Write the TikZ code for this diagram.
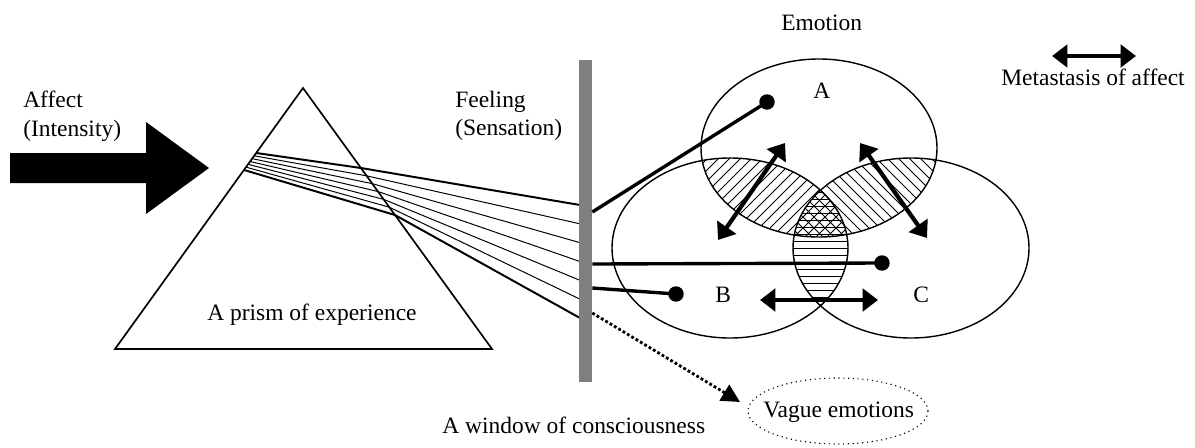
\documentclass[tikz,border=0pt]{standalone}
\usepackage{fontspec}
\setmainfont{Liberation Serif}
\usetikzlibrary{arrows.meta,calc}
\definecolor{WindowGray}{HTML}{7F7F7F}

\begin{document}
\begin{tikzpicture}[x=0.025cm, y=-0.025cm,
        lbl/.style={anchor=base west, inner sep=0pt, font=\fontsize{16.7}{20}\selectfont},
        hatch/.style={line width=0.6pt},
        contour/.style={line width=1pt},
        dot/.style={circle, fill, inner sep=0pt, minimum size=11pt},
        link/.style={line width=2.4pt},
        shift arrow/.style={line width=3pt, {Triangle[length=11pt,width=16pt]}-{Triangle[length=11pt,width=16pt]}}]
        \useasboundingbox (0,0) rectangle (1195,447);
        % affect coming in
        \fill (10,153) -- (146,153) -- (146,122) -- (209,168) -- (146,214) -- (146,183) -- (10,183) -- cycle;
        \node[lbl] (affect) at (23,107) {Affect};
        \node[lbl] (intensity) at (23,136) {(Intensity)};
        % prism and rays
        \coordinate (apex) at (303,88);
        \coordinate (bl) at (115,349);
        \coordinate (br) at (492,349);
        \draw[line width=1.2pt] (bl) -- (apex) -- (br) -- cycle;
        \node[lbl] (prism) at (207,320) {A prism of experience};
        \foreach \i in {0,...,6} {
            \pgfmathsetmacro\s{0.249+\i*0.065/6}
            \pgfmathsetmacro\t{0.3065+\i*0.1801/6}
            \pgfmathsetmacro\yy{205+\i*113/6}
            \pgfmathsetmacro\lw{(\i==0||\i==6)?1.4:0.7}
            \draw[line width=\lw pt] ($(apex)!\s!(bl)$) -- ($(apex)!\t!(br)$) -- (580,\yy);
        }
        % window
        \node[fill=WindowGray, inner sep=0pt, minimum width=9.3pt, minimum height=229pt] (window) at (585.5,221) {};
        \node[lbl] (feeling) at (455,107) {Feeling};
        \node[lbl] (sensation) at (455,135) {(Sensation)};
        \node[lbl] (windowtxt) at (442,433) {A window of consciousness};
        % emotions A, B, C
        \coordinate (A) at (819,148);
        \coordinate (B) at (730,248);
        \coordinate (C) at (911,248);
        \begin{scope}
            \clip (A) ellipse [x radius=118, y radius=89];
            \clip (B) ellipse [x radius=118, y radius=90];
            \foreach \k in {0,...,40} \draw[hatch] (480+\k*11,320) -- ++(240,-240);
        \end{scope}
        \begin{scope}
            \clip (A) ellipse [x radius=118, y radius=89];
            \clip (C) ellipse [x radius=118, y radius=90];
            \foreach \k in {0,...,36} \draw[hatch] (600+\k*11,80) -- ++(240,240);
        \end{scope}
        \begin{scope}
            \clip (B) ellipse [x radius=118, y radius=90];
            \clip (C) ellipse [x radius=118, y radius=90];
            \foreach \k in {0,...,22} \draw[hatch] (770,185+\k*7) -- (870,185+\k*7);
        \end{scope}
        \draw[contour] (A) ellipse [x radius=118, y radius=89];
        \draw[contour] (B) ellipse [x radius=118, y radius=90];
        \draw[contour] (C) ellipse [x radius=118, y radius=90];
        \node[lbl] (labA) at (813,98) {A};
        \node[lbl] (labB) at (715,302) {B};
        \node[lbl] (labC) at (913,302) {C};
        \node[lbl] (emotion) at (781,30) {Emotion};
        % links from the window
        \coordinate (wA) at ($(window.east)+(0,-9)$);
        \coordinate (wC) at ($(window.east)+(0,43)$);
        \coordinate (wB) at ($(window.east)+(0,67)$);
        \coordinate (wV) at ($(window.east)+(0,92)$);
        \node[dot] (dotA) at (767,102) {};
        \node[dot] (dotB) at (676,294) {};
        \node[dot] (dotC) at (882,263) {};
        \draw[link] (wA) -- (dotA.center);
        \draw[link] (wC) -- (dotC.center);
        \draw[link] (wB) -- (dotB.center);
        % metastasis
        \coordinate (ab1) at (718,240);
        \coordinate (ab2) at (785,143);
        \coordinate (ac1) at (860,143);
        \coordinate (ac2) at (927,238);
        \coordinate (bc1) at (760,300);
        \coordinate (bc2) at (878,300);
        \draw[shift arrow] (ab1) -- (ab2);
        \draw[shift arrow] (ac1) -- (ac2);
        \draw[shift arrow] (bc1) -- (bc2);
        \coordinate (leg1) at (1052,56);
        \coordinate (leg2) at (1136,56);
        \draw[shift arrow] (leg1) -- (leg2);
        \node[lbl] (meta) at (1001,85) {Metastasis of affect};
        % vague emotions
        \coordinate (V) at (838,411);
        \draw[line width=0.8pt, dash pattern=on 0.8pt off 2.6pt] (V) ellipse [x radius=90, y radius=33];
        \node[lbl] (vaguetxt) at (763,417) {Vague emotions};
        \coordinate (vtip) at (740,402);
        \draw[line width=2pt, dash pattern=on 2pt off 1.6pt, -{Triangle[length=13pt,width=13pt]}] (wV) -- (vtip);
    \end{tikzpicture}
\end{document}
